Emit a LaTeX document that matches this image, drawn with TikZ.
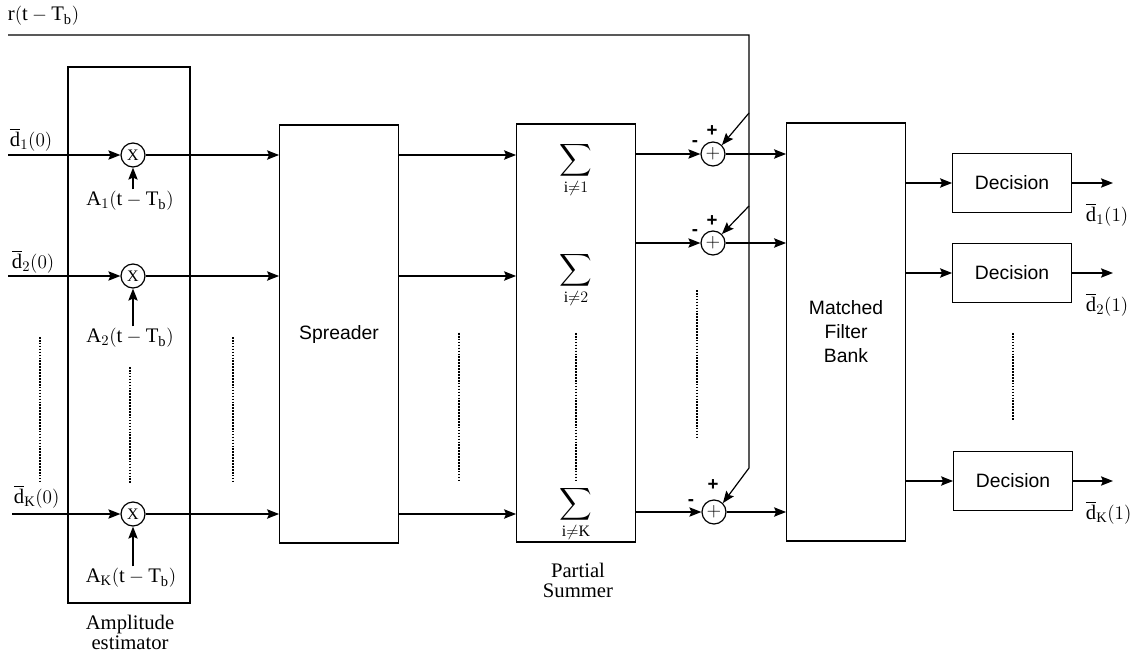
\documentclass[tikz,border=0pt]{standalone}
\usepackage{amsmath,amssymb}
\usepackage{fontspec}
\setmainfont{Liberation Serif}
\setsansfont{Liberation Sans}
\usepackage{tikz}
\usetikzlibrary{arrows.meta,positioning,calc}

\begin{document}
\begin{tikzpicture}[x=0.75pt,y=-0.75pt,line width=0.9pt,
  arr/.style={-{Stealth[length=9pt,width=7pt,inset=1.5pt]}},
  blk/.style={draw, rectangle, minimum width=89pt, minimum height=313.5pt, inner sep=0pt, font=\sffamily\fontsize{14.5}{18}\selectfont, align=center},
  decbox/.style={draw, rectangle, minimum width=89pt, minimum height=44pt, inner sep=0pt, font=\sffamily\fontsize{14.5}{18}\selectfont},
  mult/.style={draw, circle, minimum size=18pt, inner sep=0pt, font=\fontsize{12}{12}\selectfont},
  lbl/.style={inner sep=1pt, font=\fontsize{15.5}{18}\selectfont},
  sgn/.style={inner sep=0pt, font=\sffamily\bfseries\fontsize{14}{14}\selectfont},
  sumsym/.style={inner sep=0pt, font=\fontsize{17}{20}\selectfont},
  dots/.style={densely dotted, line width=1.2pt}]
\useasboundingbox (0,0) rectangle (1147,653);

% amplitude estimator
\node[draw, rectangle, minimum width=91.5pt, minimum height=402pt, inner sep=0pt] (amp) at (129,335) {\phantom{.}};
\node[lbl, align=center] (amplbl) at (130,632) {Amplitude\\[-3pt]estimator};
\node[mult] (m1) at (133,155) {X};
\node[mult] (m2) at (133,276) {X};
\node[mult] (mK) at (133,514) {X};
\node[lbl] (A1) at (130,201) {$\mathrm{A}_1(\mathrm{t}-\mathrm{T}_\mathrm{b})$};
\node[lbl] (A2) at (130,338) {$\mathrm{A}_2(\mathrm{t}-\mathrm{T}_\mathrm{b})$};
\node[lbl] (AK) at (131,578) {$\mathrm{A}_\mathrm{K}(\mathrm{t}-\mathrm{T}_\mathrm{b})$};
\draw[arr] (m1 |- A1.north) -- (m1.south);
\draw[arr] (m2 |- A2.north) -- (m2.south);
\draw[arr] (mK |- AK.north) -- (mK.south);

% inputs
\node[lbl, anchor=west] (d1) at (8,140) {$\overline{\mathrm{d}}_1(0)$};
\node[lbl, anchor=west] (d2) at (10,262) {$\overline{\mathrm{d}}_2(0)$};
\node[lbl, anchor=west] (dK) at (12,497) {$\overline{\mathrm{d}}_\mathrm{K}(0)$};
\coordinate (in1) at (8,155);
\coordinate (in2) at (8,276);
\coordinate (inK) at (12,514);
\draw[arr] (in1) -- (m1.west);
\draw[arr] (in2) -- (m2.west);
\draw[arr] (inK) -- (mK.west);

% spreader
\node[blk] (sp) at (339,334) {Spreader};
\draw[arr] (m1.east) -- (m1 -| sp.west);
\draw[arr] (m2.east) -- (m2 -| sp.west);
\draw[arr] (mK.east) -- (mK -| sp.west);

% partial summer
\node[blk] (ps) at (576,333) {\phantom{.}};
\node[sumsym] (s1) at (576,170) {$\displaystyle\sum_{\mathrm{i}\neq 1}$};
\node[sumsym] (s2) at (576,280) {$\displaystyle\sum_{\mathrm{i}\neq 2}$};
\node[sumsym] (sK) at (576,514) {$\displaystyle\sum_{\mathrm{i}\neq \mathrm{K}}$};
\node[lbl, align=center] (pslbl) at (578,580) {Partial\\[-3pt]Summer};
\draw[arr] (m1 -| sp.east) -- (m1 -| ps.west);
\draw[arr] (m2 -| sp.east) -- (m2 -| ps.west);
\draw[arr] (mK -| sp.east) -- (mK -| ps.west);

% adders
\node[mult, font=\fontsize{15}{15}\selectfont] (ad1) at (713,154) {$+$};
\node[mult, font=\fontsize{15}{15}\selectfont] (ad2) at (713,243) {$+$};
\node[mult, font=\fontsize{15}{15}\selectfont] (adK) at (714,512) {$+$};
\node[sgn] (p1) at (712,131) {+};
\node[sgn] (p2) at (712,221) {+};
\node[sgn] (pK) at (713,485) {+};
\node[sgn] (n1) at (695,144) {-};
\node[sgn] (n2) at (695,233) {-};
\node[sgn] (nK) at (691,503) {-};
\draw[arr] (ad1 -| ps.east) -- (ad1.west);
\draw[arr] (ad2 -| ps.east) -- (ad2.west);
\draw[arr] (adK -| ps.east) -- (adK.west);

% received signal
\node[lbl, anchor=west] (rlbl) at (6,16) {$\mathrm{r}(\mathrm{t}-\mathrm{T}_\mathrm{b})$};
\coordinate (r0) at (8,35);
\coordinate (rc) at (749,35);
\coordinate (b1) at (749,113);
\coordinate (b2) at (749,206);
\coordinate (bK) at (749,468);
\draw[arr] (r0) -- (rc) -- (bK) -- (adK.north east);
\draw[arr] (b1) -- (ad1.north east);
\draw[arr] (b2) -- (ad2.north east);

% matched filter bank
\node[blk] (mfb) at (846,332) {Matched\\Filter\\Bank};
\draw[arr] (ad1.east) -- (ad1 -| mfb.west);
\draw[arr] (ad2.east) -- (ad2 -| mfb.west);
\draw[arr] (adK.east) -- (adK -| mfb.west);

% decisions
\node[decbox] (dec1) at (1012,183) {Decision};
\node[decbox] (dec2) at (1012,273) {Decision};
\node[decbox] (decK) at (1013,481) {Decision};
\draw[arr] (dec1 -| mfb.east) -- (dec1.west);
\draw[arr] (dec2 -| mfb.east) -- (dec2.west);
\draw[arr] (decK -| mfb.east) -- (decK.west);
\coordinate (o1) at (1113,183);
\coordinate (o2) at (1113,273);
\coordinate (oK) at (1113,481);
\draw[arr] (dec1.east) -- (o1);
\draw[arr] (dec2.east) -- (o2);
\draw[arr] (decK.east) -- (oK);
\node[lbl, anchor=west] (e1) at (1084,215) {$\overline{\mathrm{d}}_1(1)$};
\node[lbl, anchor=west] (e2) at (1084,305) {$\overline{\mathrm{d}}_2(1)$};
\node[lbl, anchor=west] (eK) at (1084,513) {$\overline{\mathrm{d}}_\mathrm{K}(1)$};

% dotted continuation marks
\draw[dots] (40,337) -- (40,483);
\draw[dots] (130,367) -- (130,483);
\draw[dots] (233,337) -- (233,483);
\draw[dots] (459,333) -- (459,482);
\draw[dots] (576,333) -- (576,482);
\draw[dots] (697,290) -- (697,437);
\draw[dots] (1013,333) -- (1013,420);
\end{tikzpicture}
\end{document}
